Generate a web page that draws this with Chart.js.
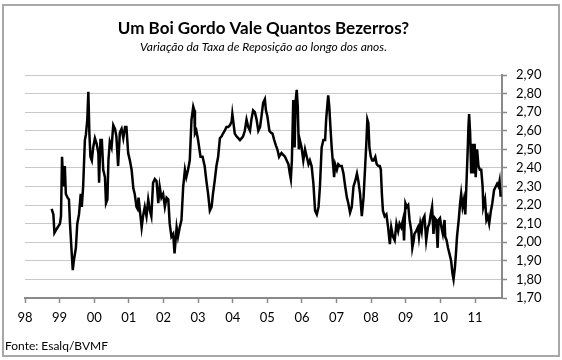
<!DOCTYPE html>
<html>
<head>
<meta charset="utf-8">
<script src="https://cdn.jsdelivr.net/npm/chart.js@4"></script>
<style>
  html, body { margin: 0; padding: 0; background: #fff; }
  #wrap { position: relative; width: 562px; height: 360px; overflow: hidden; }
  #c { position: absolute; left: 0; top: 0; }
  #frame { position: absolute; left: 2px; top: 4px; width: 558px; height: 353px; box-sizing: border-box; border: 2px solid #a8a8a8; pointer-events: none; }
  #src { position: absolute; left: 5px; top: 338px; font: 12px Lato, "Open Sans", sans-serif; color: #000; }
</style>
</head>
<body>
<div id="wrap">
  <canvas id="c" width="562" height="360"></canvas>
  <div id="frame"></div>
  <div id="src">Fonte: Esalq/BVMF</div>
</div>
<script>
const titleText = 'Um Boi Gordo Vale Quantos Bezerros?';
const subtitleText = 'Variação da Taxa de Reposição ao longo dos anos.';

const xTickYears = [1998, 1999, 2000, 2001, 2002, 2003, 2004, 2005, 2006, 2007, 2008, 2009, 2010, 2011];
const xTickLabels = ['98', '99', '00', '01', '02', '03', '04', '05', '06', '07', '08', '09', '10', '11'];
const yTickLabels = ['1,70', '1,80', '1,90', '2,00', '2,10', '2,20', '2,30', '2,40', '2,50', '2,60', '2,70', '2,80', '2,90'];

const years = [
  1998.77, 1998.82, 1998.85, 1998.91, 1999.01, 1999.04, 1999.07, 1999.11, 1999.15, 1999.18,
  1999.23, 1999.27, 1999.30, 1999.35, 1999.38, 1999.41, 1999.47, 1999.51, 1999.56, 1999.61,
  1999.64, 1999.68, 1999.73, 1999.76, 1999.80, 1999.83, 1999.86, 1999.89, 1999.93, 1999.97,
  2000.02, 2000.07, 2000.12, 2000.14, 2000.18, 2000.22, 2000.26, 2000.31, 2000.34, 2000.38,
  2000.41, 2000.45, 2000.50, 2000.55, 2000.60, 2000.64, 2000.69, 2000.74, 2000.79, 2000.84,
  2000.89, 2000.93, 2000.98, 2001.03, 2001.08, 2001.13, 2001.17, 2001.22, 2001.25, 2001.28,
  2001.32, 2001.37, 2001.41, 2001.46, 2001.51, 2001.56, 2001.61, 2001.65, 2001.70, 2001.75,
  2001.80, 2001.85, 2001.89, 2001.94, 2001.99, 2002.04, 2002.09, 2002.14, 2002.18, 2002.23,
  2002.28, 2002.32, 2002.38, 2002.42, 2002.47, 2002.52, 2002.57, 2002.62, 2002.66, 2002.71,
  2002.76, 2002.81, 2002.86, 2002.89, 2002.91, 2002.95, 2003.00,
  2003.07, 2003.13, 2003.19, 2003.24, 2003.29, 2003.34, 2003.39, 2003.43, 2003.48, 2003.53,
  2003.58, 2003.63, 2003.68, 2003.72, 2003.77, 2003.82, 2003.87, 2003.92, 2003.97, 2003.99,
  2004.03, 2004.06, 2004.11, 2004.16, 2004.21, 2004.26, 2004.30, 2004.35, 2004.40, 2004.45,
  2004.50, 2004.54, 2004.59, 2004.64, 2004.69, 2004.74, 2004.79, 2004.83, 2004.88, 2004.93,
  2004.96, 2005.00, 2005.06, 2005.10, 2005.15, 2005.20, 2005.25, 2005.29, 2005.34, 2005.37,
  2005.41, 2005.46, 2005.51, 2005.56, 2005.61, 2005.65, 2005.68, 2005.71, 2005.75, 2005.79,
  2005.82, 2005.85, 2005.88, 2005.91, 2005.94, 2005.99, 2006.04, 2006.09, 2006.14, 2006.19,
  2006.23, 2006.28, 2006.33, 2006.38, 2006.43, 2006.48, 2006.52, 2006.57, 2006.62, 2006.67,
  2006.70, 2006.74, 2006.76, 2006.79, 2006.83, 2006.86, 2006.89, 2006.93, 2006.96, 2007.01,
  2007.05, 2007.10, 2007.15, 2007.20, 2007.25, 2007.30, 2007.34, 2007.39, 2007.44, 2007.49,
  2007.54, 2007.59, 2007.63, 2007.68, 2007.73, 2007.78, 2007.83, 2007.86, 2007.89, 2007.92,
  2007.95, 2007.99, 2008.03, 2008.07, 2008.12, 2008.16, 2008.21,
  2008.25, 2008.28, 2008.31, 2008.34, 2008.39, 2008.44, 2008.49, 2008.54, 2008.58, 2008.63,
  2008.68, 2008.73, 2008.78, 2008.82, 2008.87, 2008.92, 2008.95, 2008.99, 2009.03, 2009.07,
  2009.11, 2009.16, 2009.19, 2009.23, 2009.25, 2009.30, 2009.35, 2009.38, 2009.42, 2009.46,
  2009.49, 2009.54, 2009.59, 2009.64, 2009.68, 2009.72, 2009.76, 2009.80, 2009.84, 2009.88,
  2009.92, 2009.95, 2009.99, 2010.03, 2010.07, 2010.12, 2010.14, 2010.18, 2010.22, 2010.26,
  2010.31, 2010.35, 2010.38, 2010.42, 2010.45, 2010.48, 2010.53, 2010.57, 2010.60, 2010.64,
  2010.68, 2010.72, 2010.76, 2010.79, 2010.81, 2010.83, 2010.86, 2010.89, 2010.93, 2010.96,
  2010.99, 2011.02, 2011.06, 2011.10, 2011.14, 2011.18, 2011.22, 2011.24, 2011.29, 2011.33,
  2011.37, 2011.41, 2011.46, 2011.50, 2011.55, 2011.60, 2011.64, 2011.68, 2011.71, 2011.74
];

const ratio = [
  2.18, 2.15, 2.05, 2.07, 2.10, 2.14, 2.46, 2.30, 2.41, 2.26,
  2.24, 2.23, 2.10, 1.94, 1.85, 1.90, 1.97, 2.10, 2.15, 2.26,
  2.19, 2.30, 2.55, 2.58, 2.66, 2.81, 2.585, 2.46, 2.44, 2.51,
  2.56, 2.53, 2.48, 2.32, 2.55, 2.55, 2.39, 2.35, 2.21, 2.23,
  2.44, 2.54, 2.51, 2.63, 2.61, 2.57, 2.41, 2.59, 2.61, 2.56,
  2.62, 2.62, 2.48, 2.44, 2.39, 2.29, 2.26, 2.19, 2.18, 2.24,
  2.17, 2.08, 2.14, 2.19, 2.14, 2.23, 2.17, 2.14, 2.32, 2.34,
  2.33, 2.21, 2.30, 2.24, 2.26, 2.19, 2.24, 2.23, 2.10, 2.03,
  2.045, 1.94, 2.08, 2.03, 2.08, 2.12, 2.30, 2.39, 2.35, 2.39,
  2.44, 2.66, 2.73, 2.71, 2.585, 2.60, 2.55,
  2.46, 2.46, 2.41, 2.33, 2.26, 2.17, 2.19, 2.26, 2.33, 2.41,
  2.46, 2.56, 2.57, 2.585, 2.60, 2.62, 2.62, 2.63, 2.65, 2.69,
  2.63, 2.585, 2.57, 2.56, 2.55, 2.56, 2.57, 2.60, 2.66, 2.62,
  2.60, 2.66, 2.71, 2.70, 2.66, 2.60, 2.62, 2.675, 2.75, 2.77,
  2.71, 2.68, 2.60, 2.59, 2.585, 2.55, 2.52, 2.50, 2.46, 2.47,
  2.48, 2.47, 2.46, 2.44, 2.42, 2.37, 2.34, 2.44, 2.765, 2.51,
  2.765, 2.82, 2.73, 2.50, 2.55, 2.51, 2.44, 2.50, 2.46, 2.42,
  2.44, 2.41, 2.32, 2.17, 2.15, 2.19, 2.30, 2.51, 2.55, 2.55,
  2.66, 2.75, 2.79, 2.73, 2.60, 2.51, 2.44, 2.35, 2.42, 2.39,
  2.42, 2.41, 2.41, 2.37, 2.30, 2.24, 2.21, 2.16, 2.19, 2.30,
  2.33, 2.37, 2.33, 2.26, 2.14, 2.24, 2.42, 2.53, 2.66, 2.64,
  2.51, 2.46, 2.44, 2.44, 2.46, 2.42, 2.41,
  2.41, 2.39, 2.26, 2.17, 2.14, 2.15, 2.08, 1.99, 2.08, 2.03,
  2.01, 2.10, 2.06, 2.10, 2.08, 2.12, 2.01, 2.21, 2.19, 2.20,
  2.12, 2.06, 1.97, 2.01, 2.045, 2.06, 2.08, 2.03, 2.10, 2.06,
  2.12, 2.14, 2.01, 2.08, 2.10, 2.15, 2.19, 2.045, 2.13, 2.12,
  1.97, 2.12, 2.13, 2.08, 2.045, 2.12, 2.03, 2.01, 1.97, 1.94,
  1.90, 1.83, 1.80, 1.865, 1.94, 2.03, 2.12, 2.21, 2.26, 2.19,
  2.23, 2.15, 2.35, 2.50, 2.62, 2.69, 2.585, 2.37, 2.53, 2.37,
  2.53, 2.35, 2.50, 2.41, 2.39, 2.39, 2.30, 2.19, 2.23, 2.12,
  2.14, 2.10, 2.17, 2.21, 2.28, 2.30, 2.315, 2.30, 2.33, 2.245
];

const points = years.map((x, i) => ({ x: x, y: ratio[i] }));
const yTickValues = yTickLabels.map(s => parseFloat(s.replace(',', '.')));

const FONT = 'Lato, "Open Sans", sans-serif';
const axisGray = '#8a8a8a';

new Chart(document.getElementById('c'), {
  type: 'line',
  data: {
    datasets: [{
      data: points,
      borderColor: '#000',
      borderWidth: 2.5,
      pointRadius: 0,
      tension: 0,
      fill: false
    }]
  },
  options: {
    responsive: false,
    animation: false,
    events: [],
    layout: { padding: { left: 25, right: 0, top: 0, bottom: 0 } },
    plugins: {
      legend: { display: false },
      tooltip: { enabled: false },
      title: {
        display: true,
        fullSize: false,
        text: titleText,
        color: '#000',
        font: { family: FONT, size: 17, weight: 'bold', lineHeight: 1.2 },
        padding: { top: 18.8, bottom: 0 }
      },
      subtitle: {
        display: true,
        fullSize: false,
        text: subtitleText,
        color: '#000',
        font: { family: FONT, size: 12, style: 'italic', lineHeight: 1.2 },
        padding: { top: 1.2, bottom: 20.2 }
      }
    },
    scales: {
      x: {
        type: 'linear',
        min: 1998,
        max: 2011.78,
        afterBuildTicks: s => { s.ticks = xTickYears.map(v => ({ value: v })); },
        afterFit: s => { s.height = 62; },
        ticks: {
          autoSkip: false,
          maxRotation: 0,
          color: '#000',
          padding: 7,
          font: { family: FONT, size: 13 },
          callback: (v) => { const i = xTickYears.indexOf(v); return i >= 0 ? xTickLabels[i] : ''; }
        },
        grid: { drawOnChartArea: false, drawTicks: true, tickLength: 5, tickColor: axisGray, tickWidth: 1.5 },
        border: { display: true, color: axisGray, width: 2 }
      },
      y: {
        type: 'linear',
        position: 'right',
        min: 1.7,
        max: 2.9,
        afterBuildTicks: s => { s.ticks = yTickValues.map(v => ({ value: v })); },
        afterFit: s => { s.width = 60; },
        ticks: {
          autoSkip: false,
          color: '#000',
          padding: 9,
          font: { family: FONT, size: 13 },
          callback: (v) => {
            const i = yTickValues.findIndex(t => Math.abs(t - v) < 1e-6);
            return i >= 0 ? yTickLabels[i] : '';
          }
        },
        grid: { color: '#c8c8c8', lineWidth: 1, drawOnChartArea: true, drawTicks: true, tickLength: 5, tickColor: axisGray, tickWidth: 1.5 },
        border: { display: true, color: axisGray, width: 2 }
      }
    }
  }
});
</script>
</body>
</html>
